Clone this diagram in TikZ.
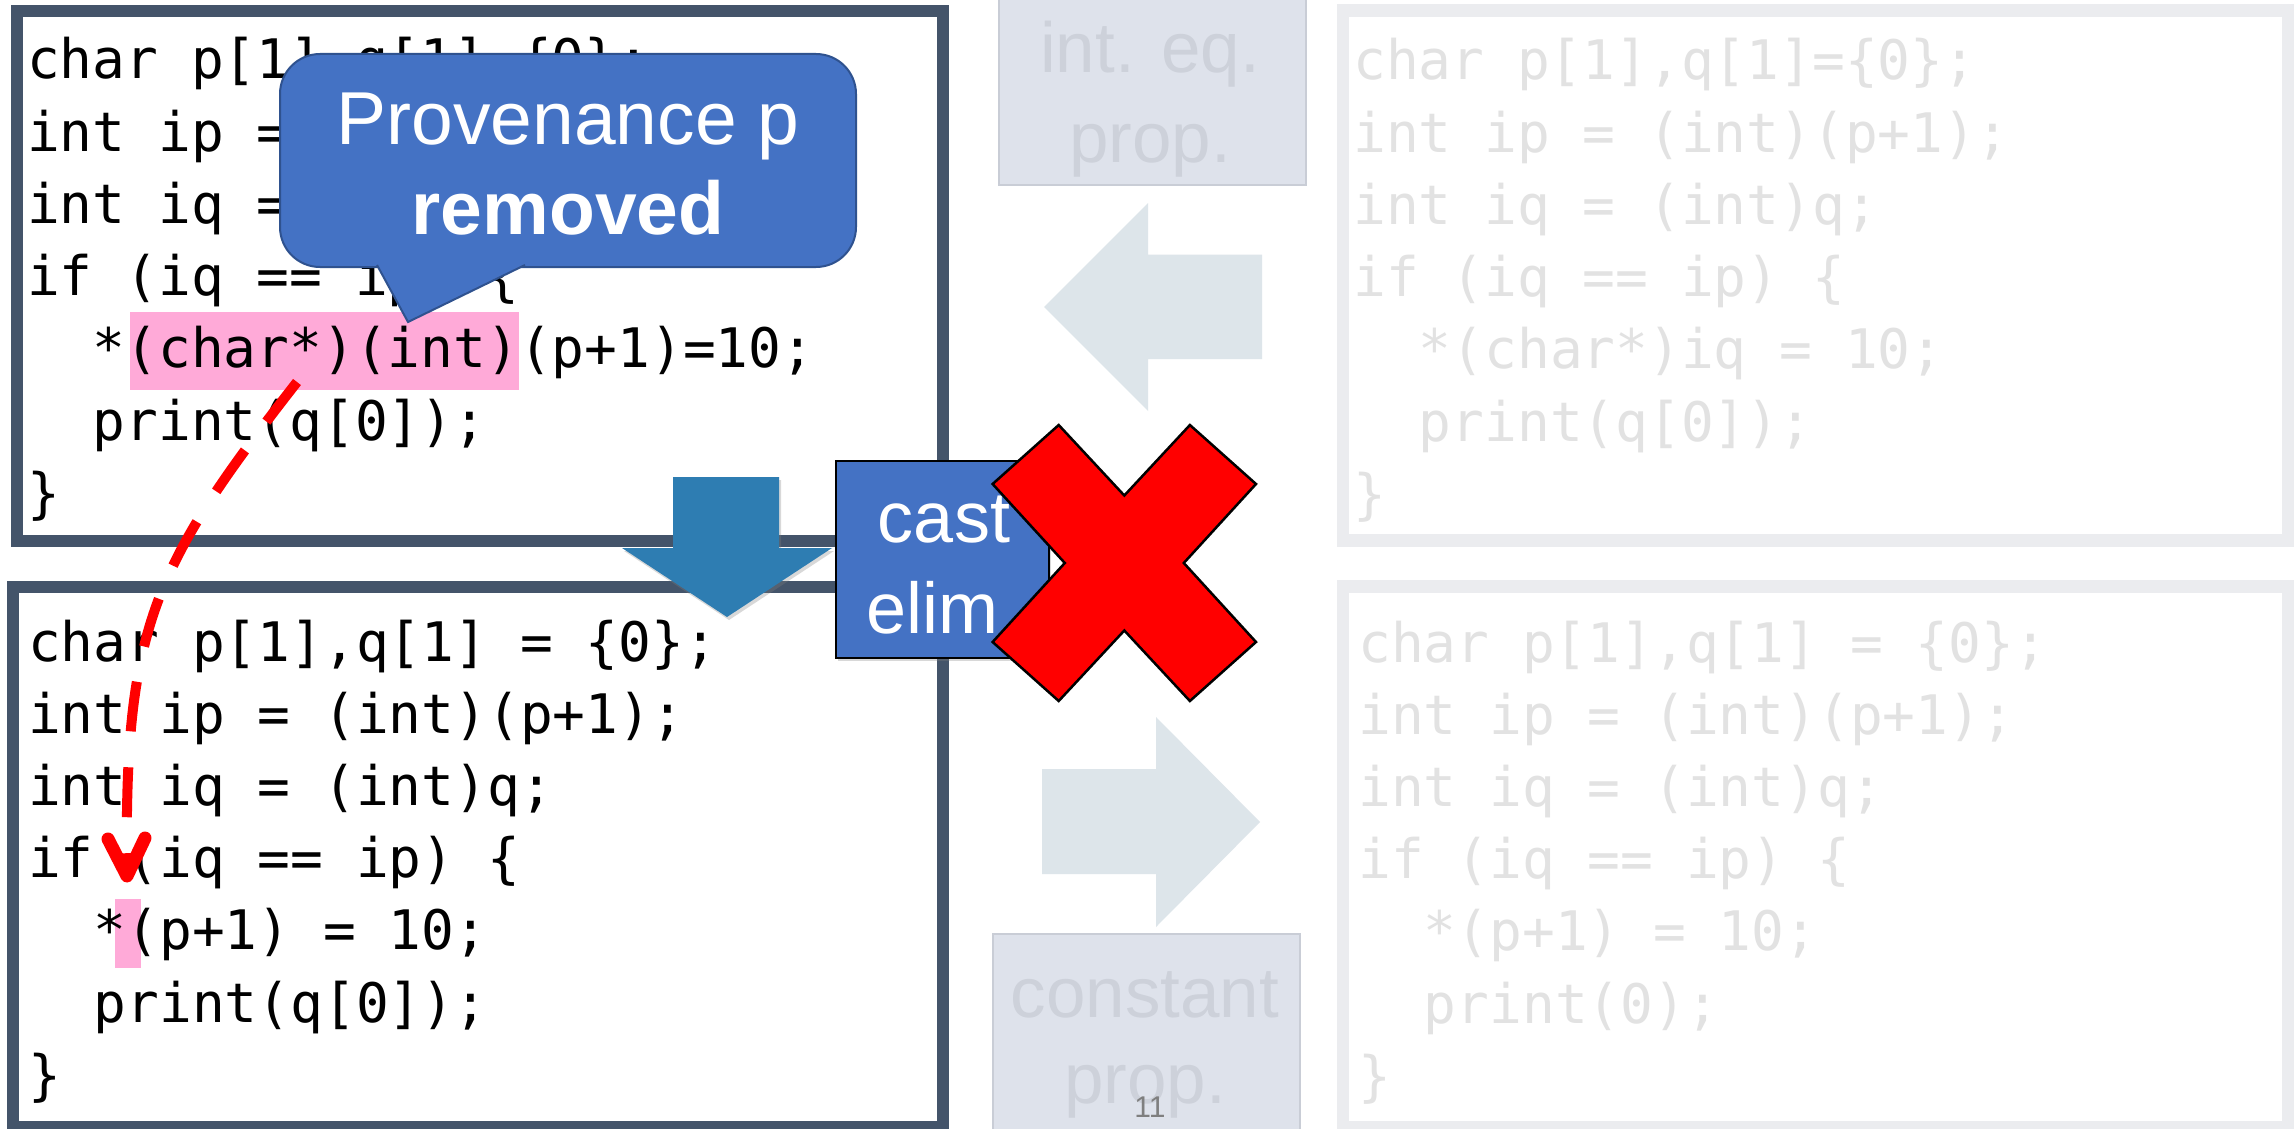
\documentclass[tikz,border=0pt]{standalone}
\usepackage{fontspec}
\setmainfont{Liberation Sans}
\newfontfamily\codefont{DejaVu Sans Mono}
\usetikzlibrary{shadows,calc}

\definecolor{frame}{HTML}{44546A}
\definecolor{faintframe}{HTML}{EBECEF}
\definecolor{fainttext}{HTML}{E2E2E2}
\definecolor{hilite}{HTML}{FFAAD8}
\definecolor{officeblue}{HTML}{4472C4}
\definecolor{officeblueborder}{HTML}{2F528F}
\definecolor{downarrow}{HTML}{2E7DB2}
\definecolor{passfill}{HTML}{DEE2EB}
\definecolor{passborder}{HTML}{C9CDD6}
\definecolor{passtext}{HTML}{CDD1DA}
\definecolor{ghostarrow}{HTML}{DDE5EA}
\definecolor{pagenum}{HTML}{7F7F7F}

\begin{document}
\begin{tikzpicture}[x=1pt,y=-1pt,
  codeline/.style={anchor=base west, inner sep=0pt,
    font=\codefont\fontsize{54.48}{65}\selectfont},
  faintcode/.style={codeline, text=fainttext},
  frameline/.style={draw=frame, line width=12pt},
  faintframeline/.style={draw=faintframe, line width=12.5pt},
  hlbox/.style={fill=hilite, inner sep=0pt},
  passbox/.style={fill=passfill, draw=passborder, line width=2pt},
  passlabel/.style={anchor=base, inner sep=0pt, text=passtext,
    font=\fontsize{71}{85}\selectfont},
  ghost/.style={fill=ghostarrow},
  bluelabel/.style={anchor=base, inner sep=0pt, text=white,
    font=\fontsize{72}{86}\selectfont},
  calloutlabel/.style={anchor=base, inner sep=0pt, text=white,
    font=\fontsize{75}{90}\selectfont},
  trail/.style={red, line width=10pt},
  softshadow/.style={drop shadow={shadow xshift=2pt, shadow yshift=-3pt, opacity=0.3}}
]
\useasboundingbox (0,0) rectangle (2295,1129);
\fill[white] (0,0) rectangle (2295,1129);

% ---- passes that do not apply (greyed out) ----
\node[passbox, minimum width=307pt, minimum height=196pt, anchor=north west] (inteq) at (998,-12) {};
\node[passlabel] (inteqa) at (1150,73) {int. eq.};
\node[passlabel] (inteqb) at (1150,163) {prop.};
\node[passbox, minimum width=307pt, minimum height=210pt, anchor=north west] (constprop) at (992,933) {};
\node[passlabel] (consta) at (1145,1017) {constant};
\node[passlabel] (constb) at (1145,1103) {prop.};

\fill[ghost] (1044,307) -- (1148,203) -- (1148,254.5) -- (1262,254.5)
  -- (1262,359) -- (1148,359) -- (1148,411) -- cycle;
\fill[ghost] (1042,769) -- (1156,769) -- (1156,717) -- (1260,822)
  -- (1156,927) -- (1156,874) -- (1042,874) -- cycle;

% ---- right-hand programs (faded) ----
\draw[faintframeline] (1343,10.5) rectangle (2288,540.5);
\draw[faintframeline] (1343,586.5) rectangle (2288,1127);

\node[faintcode] (tr1) at (1353,80)    {char p[1],q[1]=\{0\};};
\node[faintcode] (tr2) at (1353,152.2) {int ip = (int)(p+1);};
\node[faintcode] (tr3) at (1353,224.4) {int iq = (int)q;};
\node[faintcode] (tr4) at (1353,296.6) {if (iq == ip) \{};
\node[faintcode] (tr5) at (1353,368.8) {~~*(char*)iq = 10;};
\node[faintcode] (tr6) at (1353,441)   {~~print(q[0]);};
\node[faintcode] (tr7) at (1353,513.2) {\}};

\node[faintcode] (br1) at (1358,662)    {char p[1],q[1] = \{0\};};
\node[faintcode] (br2) at (1358,734.2)  {int ip = (int)(p+1);};
\node[faintcode] (br3) at (1358,806.4)  {int iq = (int)q;};
\node[faintcode] (br4) at (1358,878.6)  {if (iq == ip) \{};
\node[faintcode] (br5) at (1358,950.8)  {~~*(p+1) = 10;};
\node[faintcode] (br6) at (1358,1023)   {~~print(0);};
\node[faintcode] (br7) at (1358,1095.2) {\}};

% ---- left-hand programs ----
\draw[frameline] (17,11) rectangle (943,541);
\draw[frameline] (12.5,587) rectangle (943,1127);

\node[hlbox, minimum width=389pt, minimum height=78pt] (hl1) at (324.5,351) {};
\node[hlbox, minimum width=26pt, minimum height=69pt] (hl2) at (128,933.5) {};

\node[codeline] (tl1) at (27,79)    {char p[1],q[1]=\{0\};};
\node[codeline] (tl2) at (27,151.2) {int ip = (int)(p+1);};
\node[codeline] (tl3) at (27,223.4) {int iq = (int)q;};
\node[codeline] (tl4) at (27,295.6) {if (iq == ip) \{};
\node[codeline] (tl5) at (27,367.8) {~~*(char*)(int)(p+1)=10;};
\node[codeline] (tl6) at (27,440)   {~~print(q[0]);};
\node[codeline] (tl7) at (27,512.2) {\}};

\node[codeline] (bl1) at (28,661)    {char p[1],q[1] = \{0\};};
\node[codeline] (bl2) at (28,733.2)  {int ip = (int)(p+1);};
\node[codeline] (bl3) at (28,805.4)  {int iq = (int)q;};
\node[codeline] (bl4) at (28,877.6)  {if (iq == ip) \{};
\node[codeline] (bl5) at (28,949.8)  {~~*(p+1) = 10;};
\node[codeline] (bl6) at (28,1022)   {~~print(q[0]);};
\node[codeline] (bl7) at (28,1094.2) {\}};

% ---- transformation step ----
\fill[downarrow, softshadow] (673,477) -- (779,477) -- (779,548) -- (832,548)
  -- (727,617) -- (622,548) -- (673,548) -- cycle;

\node[draw=black, line width=2pt, fill=officeblue, softshadow,
  minimum width=213pt, minimum height=197pt] (castbox) at (942.5,559.5) {};
\node[bluelabel] (casta) at (944,542) {cast};
\node[bluelabel] (castb) at (932,633) {elim};

% ---- the step is rejected ----
\filldraw[fill=red, draw=black, line width=2.5pt, line join=miter]
  (1058.7,425) -- (1124.3,495.5) -- (1189.9,425) -- (1256,484)
  -- (1183.8,563) -- (1256,642) -- (1189.9,701) -- (1124.3,630.5)
  -- (1058.7,701) -- (992.6,642) -- (1064.8,563) -- (992.6,484) -- cycle;

% ---- speech bubble ----
\node[fill=officeblue, draw=officeblueborder, line width=2pt, rounded corners=40pt,
  minimum width=576pt, minimum height=213pt] (callout) at (568,160.5) {};
\path[fill=officeblue, draw=officeblueborder, line width=2pt, line join=miter]
  (377,265) -- (408,322) -- (525,265);
\node[calloutlabel] (calla) at (568,145) {Provenance p};
\node[calloutlabel] (callb) at (568,234) {\bfseries removed};

% ---- provenance trail ----
\coordinate (dashstart) at (297,382);
\coordinate (dashend) at (127,876);
\draw[trail, dash pattern=on 50pt off 36pt]
  (dashstart) .. controls (150,570) and (124,630) .. (dashend);
\draw[trail, line width=13pt, line cap=round, line join=round]
  ($(dashend)+(-19,-37)$) -- (dashend) -- ($(dashend)+(18,-38)$);

\node[anchor=base, inner sep=0pt, text=pagenum, font=\fontsize{30}{36}\selectfont]
  (pageno) at (1150,1117) {11};
\end{tikzpicture}
\end{document}
